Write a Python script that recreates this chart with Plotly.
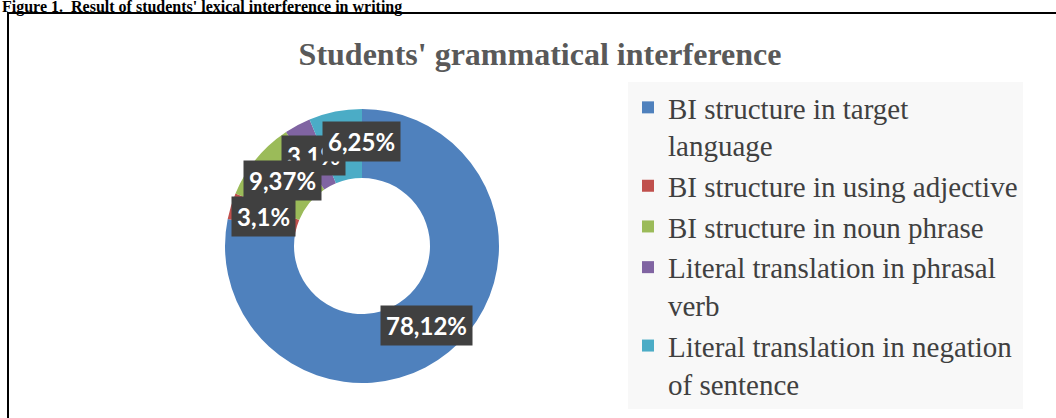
import math
import plotly.graph_objects as go

# ---- data ----
categories = [
    "BI structure in target<br>language",
    "BI structure in using adjective",
    "BI structure in noun phrase",
    "Literal translation in phrasal<br>verb",
    "Literal translation in negation<br>of sentence",
]
values = [78.12, 3.1, 9.37, 3.1, 6.25]
value_labels = ["78,12%", "3,1%", "9,37%", "3,1%", "6,25%"]
colors = ["#4F81BD", "#C0504D", "#9BBB59", "#8064A2", "#4BACC6"]

W, H = 1056, 418

# donut geometry (pixels)
CX, CY = 362, 246
R_OUT, R_IN = 137, 68
HOLE = R_IN / R_OUT

def px_x(x):
    return x / W

def px_y(y):
    return 1 - y / H

fig = go.Figure()
fig.add_trace(go.Pie(
    labels=categories,
    values=values,
    sort=False,
    direction="clockwise",
    rotation=0,
    hole=HOLE,
    marker=dict(colors=colors, line=dict(width=0)),
    textinfo="none",
    hoverinfo="label+percent",
    domain=dict(x=[px_x(CX - R_OUT), px_x(CX + R_OUT)],
                y=[px_y(CY + R_OUT), px_y(CY - R_OUT)]),
))

# data labels at slice mid-angles on the ring
total = sum(values)
r_mid = (R_OUT + R_IN) / 2
cum = 0
label_pos = []
for v in values:
    frac = (cum + v / 2) / total
    th = 2 * math.pi * frac
    label_pos.append((CX + r_mid * math.sin(th), CY - r_mid * math.cos(th)))
    cum += v

xshifts = [0, 0, 0, 0, 20]
yshifts = [0, 0, 0, 0, 4]
order = [0, 3, 2, 1, 4]
annotations = []
for i in order:
    x, y = label_pos[i]
    annotations.append(dict(
        x=px_x(x), y=px_y(y), xref="paper", yref="paper",
        text="<b>" + value_labels[i] + "</b>", showarrow=False,
        font=dict(family="Lato", size=24, color="white"),
        bgcolor="#404040", borderpad=5, xshift=xshifts[i], yshift=yshifts[i],
        xanchor="center", yanchor="middle",
    ))

# figure caption (partly cut off at the top)
annotations.append(dict(
    x=0, y=1, xref="paper", yref="paper", xanchor="left", yanchor="top",
    yshift=4, showarrow=False,
    text="<b>Figure 1.  Result of students' lexical interference in writing</b>",
    font=dict(family="Liberation Serif", size=16, color="black"),
))

fig.update_layout(
    width=W, height=H,
    margin=dict(l=0, r=0, t=0, b=0),
    paper_bgcolor="white",
    title=dict(
        text="<b>Students' grammatical interference</b>",
        x=540 / W, xanchor="center", xref="paper",
        y=1 - 54 / H, yanchor="middle", yref="container",
        font=dict(family="Liberation Serif", size=32, color="#595959"),
    ),
    showlegend=True,
    legend=dict(
        x=px_x(628), y=px_y(82), xanchor="left", yanchor="top",
        bgcolor="#F8F8F8", valign="top",
        font=dict(family="Liberation Serif", size=29, color="#404040"),
        traceorder="normal",
    ),
    annotations=annotations,
    shapes=[dict(
        type="rect", xref="paper", yref="paper",
        x0=px_x(8), x1=px_x(W + 10), y0=px_y(H + 10), y1=px_y(13),
        line=dict(color="black", width=2), fillcolor="rgba(0,0,0,0)",
        layer="above",
    )],
)

fig.write_html("out.html")
